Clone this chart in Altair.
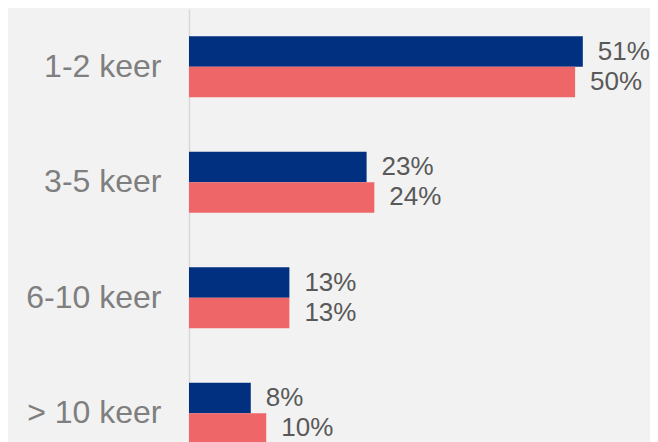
import altair as alt
import pandas as pd

categories = ["1-2 keer", "3-5 keer", "6-10 keer", "> 10 keer"]
series = ["Serie 1", "Serie 2"]
values_1 = [51, 23, 13, 8]
values_2 = [50, 24, 13, 10]
colors = ["#00307f", "#ee6668"]

rows = []
for c, v in zip(categories, values_1):
    rows.append({"cat": c, "series": series[0], "value": v})
for c, v in zip(categories, values_2):
    rows.append({"cat": c, "series": series[1], "value": v})
df = pd.DataFrame(rows)

base = alt.Chart(df).transform_calculate(
    label="datum.value + '%'"
).encode(
    y=alt.Y(
        "cat:N",
        sort=categories,
        scale=alt.Scale(paddingInner=0.474, paddingOuter=0.237),
        axis=alt.Axis(
            title=None,
            ticks=False,
            grid=False,
            labelPadding=28,
            labelFontSize=32,
            labelColor="#7f7f7f",
            labelFont="Liberation Sans",
            domainColor="#d9d9d9",
            domainWidth=1.5,
        ),
    ),
    yOffset=alt.YOffset(
        "series:N", sort=series, scale=alt.Scale(paddingInner=0, paddingOuter=0)
    ),
    x=alt.X("value:Q", scale=alt.Scale(domain=[0, 59.7], nice=False), axis=None),
)

bars = base.mark_bar().encode(
    color=alt.Color(
        "series:N", scale=alt.Scale(domain=series, range=colors), legend=None
    )
)

text = base.mark_text(
    align="left",
    baseline="middle",
    dx=15,
    fontSize=26,
    color="#595959",
    font="Liberation Sans",
).encode(text="label:N")

chart = (
    alt.layer(bars, text)
    .properties(
        width=461,
        height=462,
        autosize=alt.AutoSizeParams(type="none"),
        padding={"left": 181, "top": 1, "right": 0, "bottom": 0},
        background="#f2f2f2",
    )
    .configure_view(stroke=None)
)

chart.save("out.html", embed_options={"renderer": "svg", "actions": False})
